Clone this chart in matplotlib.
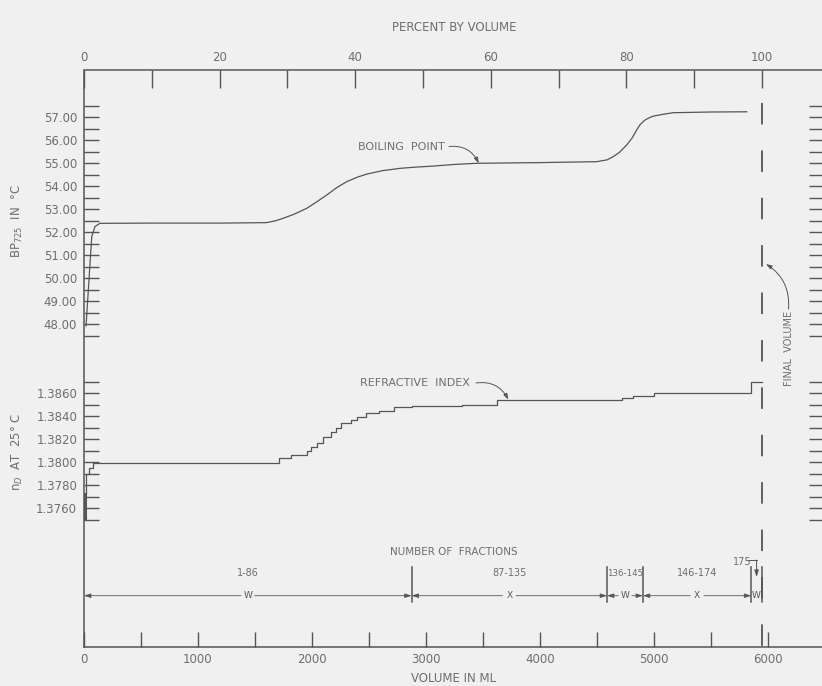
import matplotlib
matplotlib.use("Agg")
import matplotlib.pyplot as plt
from matplotlib.ticker import MultipleLocator, FormatStrFormatter

# ---------------- data ----------------
bp_volume_ml = [18, 68, 96, 140, 600, 1200, 1600, 1680, 1749, 1850, 1954, 2050, 2130,
                2220, 2305, 2400, 2481, 2620, 2773, 2900, 3065, 3250, 3446, 3800,
                4002, 4499, 4590, 4645, 4700, 4763, 4810, 4850, 4880, 4920, 4960,
                4996, 5080, 5172, 5500, 5816]
bp_temp_c = [47.93, 51.81, 52.25, 52.39, 52.40, 52.40, 52.42, 52.50, 52.61, 52.80,
             53.04, 53.35, 53.62, 53.95, 54.20, 54.40, 54.53, 54.68, 54.78, 54.83,
             54.88, 54.95, 55.00, 55.02, 55.03, 55.07, 55.15, 55.29, 55.48, 55.80,
             56.10, 56.45, 56.68, 56.87, 56.98, 57.05, 57.13, 57.20, 57.23, 57.24]

ri_volume_ml = [15, 15, 40, 75, 1711, 1814, 1954, 1990, 2047, 2100, 2165, 2209, 2253,
                2341, 2398, 2472, 2589, 2720, 2881, 3315, 3622, 4719, 4815, 5002,
                5851, 5950]
ri_value = [1.3772, 1.3790, 1.3795, 1.3799, 1.3804, 1.3806, 1.3810, 1.3813, 1.3817,
            1.3822, 1.3826, 1.3830, 1.3834, 1.3837, 1.3839, 1.3843, 1.3845, 1.3848,
            1.3849, 1.3850, 1.3854, 1.3856, 1.3858, 1.3860, 1.3870, 1.3870]
ri_initial_volume_ml = 8
ri_initial_range = [1.3751, 1.3772]

final_volume_ml = 5950
fraction_bounds_ml = [0, 2875, 4590, 4905, 5855, 5950]
fraction_ranges = ["1-86", "87-135", "136-145", "146-174", "175"]
fraction_codes = ["W", "X", "W", "X", "W"]

volume_ticks = [0, 1000, 2000, 3000, 4000, 5000, 6000]
percent_ticks = [0, 20, 40, 60, 80, 100]
bp_ticks = [48, 49, 50, 51, 52, 53, 54, 55, 56, 57]
ri_ticks = [1.376, 1.378, 1.380, 1.382, 1.384, 1.386]

# ---------------- style ----------------
BG = "#f0f0f0"
LINE = "#555555"
TXT = "#6e6e6e"
FONT = "DejaVu Sans"
plt.rcParams["font.family"] = [FONT]
plt.rcParams["lines.scale_dashes"] = False

W, H = 822, 686
fig = plt.figure(figsize=(W / 100, H / 100), dpi=100, facecolor=BG)


def fx(px):
    return px / W


def fy(py):
    return 1 - py / H


X0, X1 = 84, 824
Y_TOP, Y_BOT = 70.5, 647
PX_PER_ML = 0.11395
XMAX = (X1 - X0) / PX_PER_ML

# main frame axes, y in pixel rows (for annotation layout)
ax = fig.add_axes([fx(X0), fy(Y_BOT), fx(X1) - fx(X0), fy(Y_TOP) - fy(Y_BOT)])
ax.set_facecolor("none")
ax.set_xlim(0, XMAX)
ax.set_ylim(Y_BOT, Y_TOP)
ax.spines["right"].set_visible(False)
ax.spines["top"].set_visible(False)
for s in ("left", "bottom"):
    ax.spines[s].set_color(LINE)
    ax.spines[s].set_linewidth(1.1)
ax.set_yticks([])
ax.set_xticks(volume_ticks)
ax.xaxis.set_minor_locator(MultipleLocator(500))
ax.tick_params(axis="x", which="both", direction="in", length=11, width=1,
               color=LINE, labelcolor=TXT, labelsize=8.5, pad=4)
ax.set_xlabel("VOLUME IN ML", color=TXT, fontsize=8.5, labelpad=5)

sec = ax.secondary_xaxis("top", functions=(lambda v: v / final_volume_ml * 100,
                                            lambda p: p * final_volume_ml / 100))
sec.set_xticks(percent_ticks)
sec.xaxis.set_minor_locator(MultipleLocator(10))
sec.tick_params(axis="x", which="both", direction="in", length=13, width=1,
                color=LINE, labelcolor=TXT, labelsize=8.5, pad=5)
sec.spines["top"].set_color(LINE)
sec.spines["top"].set_linewidth(1.1)
sec.set_xlabel("PERCENT BY VOLUME", color=TXT, fontsize=8.5, labelpad=14)


def make_axes(vmin, vmax, to_py):
    a = fig.add_axes([fx(X0), fy(to_py(vmin)), fx(X1) - fx(X0),
                      fy(to_py(vmax)) - fy(to_py(vmin))])
    a.set_xlim(0, XMAX)
    a.set_ylim(vmin, vmax)
    a.patch.set_visible(False)
    for s in a.spines.values():
        s.set_visible(False)
    a.set_xticks([])
    a.tick_params(axis="y", which="both", direction="in", length=11, width=1,
                  left=True, right=True, labelleft=True, labelright=False,
                  color=LINE, labelcolor=TXT, labelsize=8.5, pad=5)
    return a


# boiling point axes
def bp_py(v):
    return 117.3 + (57 - v) * 23


axb = make_axes(47.49, 57.51, bp_py)
axb.set_yticks(bp_ticks)
axb.yaxis.set_minor_locator(MultipleLocator(0.5))
axb.yaxis.set_major_formatter(FormatStrFormatter("%.2f"))
axb.plot(bp_volume_ml, bp_temp_c, color=LINE, lw=0.9)


# refractive index axes
def ri_py(v):
    return 393.3 + (1.386 - v) * 11500


axr = make_axes(1.37495, 1.38705, ri_py)
axr.set_yticks(ri_ticks)
axr.yaxis.set_minor_locator(MultipleLocator(0.001))
axr.yaxis.set_major_formatter(FormatStrFormatter("%.4f"))
axr.step(ri_volume_ml, ri_value, where="post", color=LINE, lw=0.9)
axr.plot([ri_initial_volume_ml] * 2, ri_initial_range, color=LINE, lw=2.2)

# y labels
fig.text(fx(17.5), fy(221), "BP$_{725}$  IN  °C", rotation=90, ha="center", va="center",
         color=TXT, fontsize=8.5)
fig.text(fx(17), fy(452), "n$_{D}$  AT  25° C", rotation=90, ha="center", va="center",
         color=TXT, fontsize=8.5)

# final volume dashed line
ax.plot([final_volume_ml, final_volume_ml], [103, Y_BOT], color=LINE, lw=1.3,
        linestyle=(0, (21.5 / 1.389, 25.9 / 1.389)))

arrow_kw = dict(arrowstyle="-|>,head_length=0.35,head_width=0.12", color=LINE, lw=0.7,
                shrinkA=0, shrinkB=0)

# curve labels
fig.text(fx(401.5), fy(147.3), "BOILING  POINT", ha="center", va="center",
         color=TXT, fontsize=8)
axb.annotate("", xy=(3464, 55.0), xytext=(fx(449), fy(146.5)), textcoords="figure fraction",
             arrowprops=dict(connectionstyle="arc3,rad=-0.35", **arrow_kw))
fig.text(fx(415), fy(383.3), "REFRACTIVE  INDEX", ha="center", va="center",
         color=TXT, fontsize=8)
axr.annotate("", xy=(3724, 1.38545), xytext=(fx(476), fy(383)), textcoords="figure fraction",
             arrowprops=dict(connectionstyle="arc3,rad=-0.35", **arrow_kw))
fig.text(fx(788.5), fy(348), "FINAL  VOLUME", rotation=90, ha="center", va="center",
         color=TXT, fontsize=7)
ax.annotate("", xy=(final_volume_ml + 35, 264), xytext=(fx(788.5), fy(309)),
            textcoords="figure fraction",
            arrowprops=dict(connectionstyle="arc3,rad=0.3", **arrow_kw))

# fractions
ax.text(0.5, 551.7, "NUMBER OF  FRACTIONS", transform=ax.get_yaxis_transform(),
        ha="center", va="center", color=TXT, fontsize=7.5)
Y_ARW, Y_LBL, BAR_T, BAR_B = 595.7, 573, 567, 601.7
for b in fraction_bounds_ml[1:]:
    ax.plot([b, b], [BAR_T, BAR_B], color=LINE, lw=1.1)
for i, (rng, code) in enumerate(zip(fraction_ranges, fraction_codes)):
    a, b = fraction_bounds_ml[i], fraction_bounds_ml[i + 1]
    mid = (a + b) / 2
    ax.text(mid, Y_ARW, code, ha="center", va="center", color=LINE, fontsize=6.5)
    if b - a > 200:
        gap = 60
        fs = 7 if b - a > 500 else 6.2
        ax.text(mid, Y_LBL, rng, ha="center", va="center", color=TXT, fontsize=fs)
        ax.annotate("", xy=(a, Y_ARW), xytext=(mid - gap, Y_ARW),
                    arrowprops=dict(arrowstyle="-|>,head_length=0.4,head_width=0.13",
                                    color=LINE, lw=0.6, shrinkA=0, shrinkB=0))
        ax.annotate("", xy=(b, Y_ARW), xytext=(mid + gap, Y_ARW),
                    arrowprops=dict(arrowstyle="-|>,head_length=0.4,head_width=0.13",
                                    color=LINE, lw=0.6, shrinkA=0, shrinkB=0))
    else:
        ax.text(mid - 130, 561.7, rng, ha="center", va="center", color=TXT, fontsize=7)
        ax.plot([mid - 72, mid], [560, 560], color=LINE, lw=0.7)
        ax.annotate("", xy=(mid, 577), xytext=(mid, 560),
                    arrowprops=dict(arrowstyle="-|>,head_length=0.4,head_width=0.13",
                                    color=LINE, lw=0.7, shrinkA=0, shrinkB=0))

fig.savefig("out.png", dpi=100, facecolor=BG)
